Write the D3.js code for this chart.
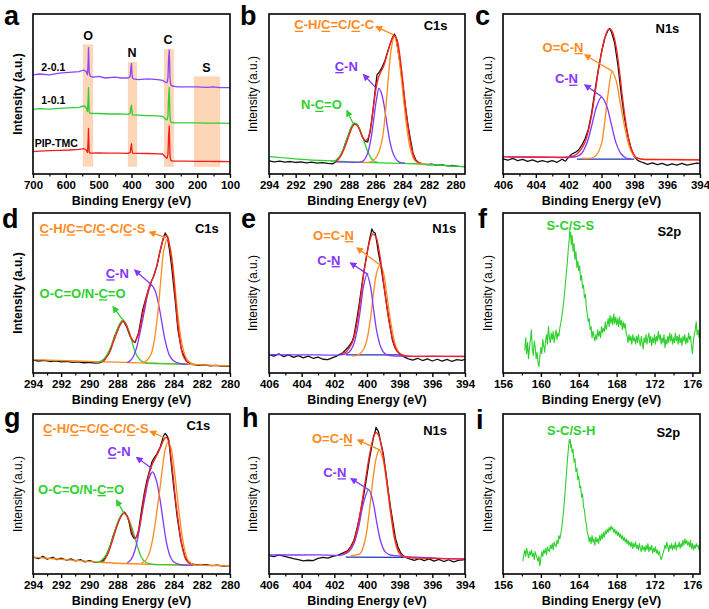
<!DOCTYPE html>
<html><head><meta charset="utf-8">
<script src="https://cdn.jsdelivr.net/npm/d3@7"></script>
<style>body{margin:0;background:#fff} text{font-family:"Liberation Sans",Arial,sans-serif}</style>
</head><body><svg id="c" width="709" height="609"></svg>
<script>
// ---------------- DATA ----------------
// Panel a: survey spectra [binding energy, intensity]
const survey21 = [[700,62],[680,62.5],[650,62],[620,63],[590,63.5],[560,64],[545,65],[538,64],[534,62],[532,70],[531,79],[530,72],[529,64],[527,62],[525,61],[515,60.5],[500,61],[480,60],[450,60.5],[430,60],[410,60],[404,61],[402,66],[400,69],[399,64],[397,60],[394,59.5],[380,59],[350,59.5],[320,59],[305,58.5],[298,57.5],[292,57],[289,60],[287,72],[285,77.5],[284,70],[283,62],[282,58],[280,55.5],[276,55],[260,54.5],[230,54.5],[200,54.5],[170,54.2],[150,54.4],[130,54],[100,54]];
const survey11 = [[700,40.4],[680,40.8],[650,40.6],[620,41],[590,41.3],[560,41.7],[545,42.5],[538,41.5],[534,39],[532,47],[531,54],[530,46],[529,39],[527,38],[525,37.9],[500,37.8],[470,37.5],[440,37.6],[410,37.3],[404,38],[402,41],[400,43],[399,40],[397,37],[380,36.8],[350,36.5],[320,36.3],[305,36],[298,34.5],[292,33.8],[289,36],[287,48],[285,54],[284,46],[283,38],[282,34],[280,32.3],[270,32],[230,32],[200,31.9],[170,31.8],[130,31.8],[100,31.7]];
const surveyPIP = [[700,14],[680,14.3],[650,14.6],[620,14.8],[590,15],[560,15.4],[545,15.8],[538,15],[534,13.5],[532,21],[531,28.5],[530,21],[529,14],[527,13.2],[525,13],[500,13.2],[470,13],[440,13.1],[410,12.9],[404,13.5],[402,16.5],[400,18.8],[399,16],[397,13],[380,12.9],[350,12.8],[320,12.6],[305,12.5],[298,10.8],[292,9.8],[289,12],[287,24],[285,30],[284,22],[283,14],[282,10],[280,8.3],[270,8.1],[230,8],[200,7.9],[170,7.9],[130,7.8],[100,7.7]];
const surveyBands = [[548,517,81],[411,383,70],[301,271,78],[210,130,61]];

// Panel b: C1s (sample PIP-TMC)
const bRaw = [[294,8.2],[293.6,7.6],[293.2,8.1],[292.8,7.4],[292.4,7.8],[292,7.2],[291.6,7.6],[291.2,7.0],[290.8,7.4],[290.4,6.8],[290,7.1],[289.6,6.6],[289.2,6.4],[289,7.5],[288.8,9.5],[288.6,12],[288.4,16],[288.2,21],[288,25],[287.8,29.5],[287.6,31.5],[287.4,31],[287.2,28],[287,23],[286.8,20.5],[286.6,20],[286.4,27],[286.2,40],[286.0,55],[285.9,62],[285.7,64],[285.5,67],[285.3,71],[285.1,76.5],[284.9,81.5],[284.75,85],[284.6,87.5],[284.45,85],[284.3,76],[284.15,68],[284.0,58],[283.8,44],[283.6,32],[283.4,22],[283.2,13],[283.0,9],[282.8,7.2],[282.5,6.3],[282.2,5.8],[281.8,6.1],[281.4,5.5],[281,5.7],[280.6,5.1],[280.2,5.3],[279.8,4.8],[279.3,4.6]];
const bEnv = [[289,7.5],[288.6,11.5],[288.3,17],[288,24],[287.8,28.5],[287.6,31],[287.4,30.5],[287.2,27.5],[287,23.5],[286.8,21],[286.6,22],[286.4,28],[286.2,40],[286,52],[285.8,60],[285.6,64],[285.4,67.5],[285.2,73],[285,79],[284.8,84],[284.6,86.5],[284.4,84],[284.2,75],[284,61],[283.8,45],[283.6,31],[283.4,20],[283.2,12.5],[283,8.5],[282.7,6.8]];
const bBg = [[294,10.8],[291,8.8],[289,8.1],[287,7.3],[285,6.8],[283,6.4],[281,5.4],[279.3,4.6]];
const bNCO = [[289.4,7.9],[289,8.6],[288.7,11],[288.4,16],[288.1,23],[287.85,29],[287.6,32],[287.35,30.5],[287.1,26],[286.85,20],[286.6,14],[286.35,10],[286.1,8],[285.8,7.2]];
const bCN = [[289,7.6],[288,7.4],[287.2,7.4],[286.9,8.5],[286.6,13],[286.35,22],[286.15,34],[285.95,46],[285.75,53.5],[285.55,50],[285.35,42],[285.15,31],[284.95,21],[284.7,13],[284.45,9],[284.2,7.3],[283.8,6.9]];
const bCC = [[287,7.1],[286.4,7.5],[286.1,9],[285.8,13],[285.5,22],[285.25,40],[285.05,60],[284.85,77],[284.6,86],[284.35,78],[284.1,62],[283.85,42],[283.6,25],[283.35,14],[283.1,9],[282.8,7],[282.3,6.2]];

// Panel c: N1s (PIP-TMC)
const cRaw = [[406,9.5],[405.7,8.6],[405.4,9.8],[405.1,8.3],[404.8,9.1],[404.5,7.9],[404.2,8.8],[403.9,7.6],[403.6,8.4],[403.3,7.5],[403,8.3],[402.7,7.3],[402.4,9.2],[402.2,8.0],[402.0,10.5],[401.8,12.5],[401.6,13.5],[401.4,15],[401.2,18],[401,22],[400.8,28],[400.6,38],[400.4,52],[400.2,65],[400.0,76],[399.8,85],[399.6,90],[399.5,91],[399.4,89],[399.2,82],[399,68],[398.8,50],[398.6,35],[398.4,24],[398.2,16],[398,11],[397.8,8.5],[397.5,7.2],[397.2,6.0],[396.9,7.0],[396.6,5.8],[396.3,6.6],[396,5.4],[395.7,6.3],[395.4,5.6],[395.1,6.6],[394.8,5.5],[394.5,6.2],[394.2,6.8],[394,6.5]];
const cEnv = [[406,10.8],[403,10.5],[401.8,11],[401.5,12.5],[401.2,16],[401,20],[400.8,27],[400.6,37],[400.4,50],[400.2,64],[400,76],[399.8,85],[399.6,90],[399.45,90.5],[399.3,88],[399.1,79],[398.9,64],[398.7,46],[398.5,31],[398.3,20],[398.1,13.5],[397.9,10.5],[397.6,9.3],[396,9],[394,8.8]];
const cCN = [[406,10.8],[403.5,10.5],[402,10.3],[401.5,11],[401.2,13],[400.9,19],[400.6,30],[400.3,42],[400.0,48],[399.7,43],[399.4,31],[399.1,19],[398.8,12.5],[398.5,10],[398.2,9.5]];
const cOCN = [[401.2,9.8],[400.6,10],[400.3,12],[400.0,19],[399.8,33],[399.6,50],[399.35,64],[399.1,58],[398.9,47],[398.6,30],[398.3,17],[398.0,11],[397.7,9.6],[397.0,9.3],[395.5,9.1],[394,8.9]];
const cBase = [[401.5,9.3],[398,9.3]];

// Panel d: C1s (1-0.1)
const dRaw = [[294,8.0],[293.6,7.5],[293.2,7.9],[292.8,7.2],[292.4,7.6],[292,7.0],[291.6,7.3],[291.2,6.7],[290.8,7.0],[290.4,6.4],[290,6.7],[289.6,6.2],[289.3,6.3],[289.0,7.3],[288.75,10.5],[288.5,14.6],[288.2,23],[288,27],[287.8,31],[287.6,33],[287.35,29],[287.1,23],[286.9,20],[286.75,19],[286.5,25],[286.2,39.6],[286.0,46],[285.8,52],[285.6,57],[285.45,60],[285.2,66.7],[285.0,75],[284.75,84],[284.6,87.5],[284.45,85],[284.3,77],[284.15,66.7],[283.9,45.8],[283.7,27],[283.45,14.6],[283.1,7.3],[282.8,5.6],[282.6,5.2],[282.2,4.8],[281.8,5.1],[281.4,4.5],[281,4.8],[280.6,4.3],[280.3,4.5],[280,4.2]];
const dEnv = [[289,7.2],[288.6,12],[288.3,19],[288,26],[287.8,30],[287.6,32.5],[287.4,30.5],[287.2,26],[287,21.5],[286.8,19.5],[286.6,22],[286.4,28],[286.2,37],[286,45],[285.8,52],[285.6,57],[285.4,61],[285.2,67],[285,75],[284.8,82],[284.6,86],[284.45,85.5],[284.3,80],[284.1,68],[283.9,49],[283.7,30],[283.5,17],[283.3,10],[283.0,6.5]];
const dBg = [[294,8.3],[291,7.5],[289,7.0],[287,6.5],[285,6.0],[283,5.4],[282,5.1],[281,4.7],[280,4.4]];
const dOCO = [[289.3,7],[289,8.5],[288.7,12],[288.4,18],[288.1,25],[287.85,30.5],[287.6,33],[287.35,30],[287.1,24],[286.85,16],[286.6,10.5],[286.3,7.5],[286,6.3],[285,5.9],[284,5.7],[283,5.5]];
const dCN = [[287.3,6.5],[287.0,8.5],[286.7,14],[286.4,25],[286.1,38],[285.85,49],[285.6,55],[285.35,52],[285.1,44],[284.85,32],[284.6,20],[284.3,11],[284.0,7.5],[283.6,6],[283.0,5.4]];
const dCC = [[286.2,6.3],[285.9,8],[285.6,12],[285.35,22],[285.1,40],[284.9,60],[284.7,77],[284.45,84],[284.2,76],[284.0,62],[283.75,40],[283.45,20],[283.15,10],[282.85,6.5],[282.4,5.2]];

// Panel e: N1s (1-0.1)
const eRaw = [[406,11.5],[405.7,10.6],[405.4,12.0],[405.1,10.2],[404.8,11.3],[404.5,9.8],[404.2,10.9],[403.9,9.5],[403.6,10.6],[403.3,9.2],[403.0,9.9],[402.7,8.6],[402.4,8.3],[402.1,9.6],[401.9,10.4],[401.7,11.5],[401.5,12.5],[401.3,14.5],[401.1,16.7],[400.9,20],[400.8,23],[400.6,35],[400.45,45],[400.3,56],[400.15,66],[400.0,75],[399.85,83],[399.7,90],[399.6,88],[399.5,87.5],[399.4,82],[399.3,75],[399.15,67],[399.05,60],[398.9,50],[398.75,39.6],[398.6,30],[398.45,20.8],[398.3,16],[398.15,13.5],[397.95,11.5],[397.8,10.4],[397.5,9.0],[397.2,8.0],[396.9,9.2],[396.6,7.8],[396.3,8.8],[396.0,7.5],[395.7,8.6],[395.4,7.4],[395.1,8.5],[394.8,7.2],[394.5,8.3],[394.2,7.9],[394,8.5]];
const eEnv = [[401.5,12.5],[401.3,13],[401.0,17],[400.8,22],[400.6,32],[400.4,46],[400.2,62],[400.0,74],[399.85,82],[399.65,87],[399.45,85],[399.25,76],[399.05,62],[398.85,46],[398.65,32],[398.45,22],[398.25,15.5],[398,12],[397.6,10.7],[396,10.5],[394,10.4]];
const eCN = [[406,11.5],[403,11.3],[401.5,11.5],[401.1,13],[400.85,17],[400.6,27],[400.4,40],[400.2,55],[400.0,61.5],[399.8,55],[399.6,40],[399.4,26],[399.15,16],[398.9,12],[398.6,10.8],[398,10.5],[396,10.4],[394,10.3]];
const eOCN = [[400.9,10.5],[400.5,11.5],[400.2,15],[400.0,21],[399.8,33],[399.6,50],[399.4,63],[399.2,67.7],[399.0,63],[398.8,50],[398.55,32],[398.3,19],[398.05,13],[397.8,11],[397.4,10.5]];
const eBase = [[401.3,11.3],[397.8,11.3]];

// Panel f: S2p (1-0.1)
const fRaw = [[158.3,14],[158.4,22],[158.5,12],[158.6,19],[158.7,9],[158.8,16],[158.9,21],[159.0,27],[159.1,15],[159.2,11],[159.3,20],[159.4,16],[159.5,9],[159.6,13],[159.7,6],[159.8,4],[159.9,11],[160.0,16],[160.1,12],[160.2,21],[160.3,17],[160.4,13],[160.5,20],[160.6,24],[160.7,18],[160.8,29],[160.9,22],[161.0,19],[161.1,25],[161.2,21],[161.3,26],[161.4,19],[161.5,23],[161.6,27],[161.7,21],[161.8,25],[161.9,23],[162.0,28],[162.1,31],[162.2,35],[162.3,39],[162.4,44],[162.5,50],[162.6,57],[162.7,63],[162.8,70],[162.9,78],[163.0,84],[163.05,89],[163.1,85],[163.15,88],[163.2,80],[163.3,86],[163.4,76],[163.5,81],[163.6,71],[163.7,76],[163.8,66],[163.9,70],[164.0,64],[164.1,67],[164.2,58],[164.3,61],[164.4,53],[164.5,55],[164.6,47],[164.7,49],[164.8,41],[164.9,37],[165.0,32],[165.1,34],[165.2,27],[165.3,29],[165.4,22],[165.5,26],[165.6,23],[165.7,20],[165.8,24],[165.9,21],[166.0,27],[166.1,23],[166.2,26],[166.3,22],[166.4,29],[166.5,25],[166.6,28],[166.7,26],[166.8,32],[166.9,27],[167.0,30],[167.1,34],[167.2,29],[167.3,36],[167.4,31],[167.5,35],[167.6,30],[167.7,37],[167.8,31],[167.9,35],[168.0,30],[168.1,34],[168.2,29],[168.3,35],[168.4,30],[168.5,33],[168.6,27],[168.7,32],[168.8,28],[168.9,31],[169.0,25],[169.1,23],[169.2,19],[169.3,24],[169.4,20],[169.5,23],[169.6,18],[169.7,24],[169.8,20],[169.9,22],[170.0,18],[170.1,23],[170.2,19],[170.3,24],[170.4,20],[170.5,17],[170.6,23],[170.7,19],[170.8,15],[170.9,22],[171.0,19],[171.1,24],[171.2,18],[171.3,22],[171.4,25],[171.5,19],[171.6,23],[171.7,17],[171.8,22],[171.9,19],[172.0,24],[172.1,18],[172.2,23],[172.3,20],[172.4,26],[172.5,21],[172.6,24],[172.7,18],[172.8,22],[172.9,19],[173.0,24],[173.1,16],[173.2,21],[173.3,18],[173.4,23],[173.5,19],[173.6,25],[173.7,20],[173.8,24],[173.9,18],[174.0,22],[174.1,19],[174.2,25],[174.3,20],[174.4,23],[174.5,18],[174.6,24],[174.7,19],[174.8,22],[174.9,17],[175.0,23],[175.1,20],[175.2,24],[175.3,18],[175.4,22],[175.5,19],[175.6,25],[175.7,21],[175.8,23],[175.9,17],[176.0,12],[176.1,20],[176.2,24],[176.3,27],[176.4,32],[176.5,24],[176.6,27],[176.7,22],[176.8,26]];

// Panel g: C1s (2-0.1)
const gRaw = [[294,10.5],[293.6,9.6],[293.3,11.0],[293,9.3],[292.6,10.4],[292.3,9.0],[292,9.9],[291.6,8.6],[291.3,9.5],[291,8.2],[290.6,8.9],[290.3,7.6],[290,8.3],[289.6,7.4],[289.2,7.3],[289.0,8.5],[288.75,12.5],[288.5,18],[288.3,24],[288.1,29],[287.9,33.5],[287.7,37],[287.5,38.7],[287.35,37],[287.2,33.5],[287,25],[286.85,22.5],[286.75,22],[286.6,24],[286.5,27],[286.25,42],[286.1,50],[285.9,58.6],[285.7,65],[285.55,70],[285.4,72.5],[285.2,75],[284.95,79.5],[284.8,84],[284.7,86.8],[284.6,87.9],[284.45,86],[284.35,83.7],[284.2,71],[284.0,54.4],[283.75,35.5],[283.5,21],[283.2,10.5],[283.0,7.8],[282.8,6.7],[282.5,5.9],[282.1,5.5],[281.7,5.8],[281.3,5.2],[280.9,5.5],[280.5,5.0],[280,5.2]];
const gEnv = [[289,7.7],[288.7,12],[288.4,19.5],[288.1,28],[287.8,35],[287.55,38],[287.3,36],[287.05,29],[286.85,23.5],[286.7,22.5],[286.5,27],[286.3,36],[286.1,48],[285.9,57],[285.7,64],[285.5,69],[285.3,72.5],[285.1,76],[284.9,80],[284.7,84],[284.55,85.5],[284.4,84],[284.25,77],[284.05,62],[283.85,45],[283.6,28],[283.35,15],[283.1,8.5],[282.8,6]];
const gBg = [[294,10.5],[291,8.5],[289,7.2],[287,6.4],[285,5.9],[283,5.5],[281,5.3],[280,5.2]];
const gOCO = [[289.4,7.3],[289.1,8.8],[288.8,12],[288.5,18],[288.2,26],[287.95,33],[287.7,37],[287.5,37.7],[287.3,36],[287.05,31],[286.8,24],[286.55,16.5],[286.3,10.5],[286.0,7.3],[285.6,6.2],[284.5,5.8],[283,5.6]];
const gCN = [[287.3,6.8],[287.0,9.5],[286.75,15],[286.5,25],[286.25,38],[286.0,50],[285.75,60],[285.5,63.8],[285.25,59],[285.0,48],[284.75,33],[284.5,19],[284.25,11],[284.0,7.5],[283.6,6],[283.0,5.5],[282.6,5.4]];
const gCC = [[286.3,6.8],[286.0,8.5],[285.7,14],[285.45,24],[285.2,39],[285.0,52],[284.8,66],[284.6,78],[284.4,82.6],[284.2,79],[284.0,68],[283.8,53],[283.6,37],[283.35,21],[283.1,11],[282.85,7],[282.5,5.7]];

// Panel h: N1s (2-0.1)
const hRaw = [[406,11.5],[405.7,10.8],[405.4,12.0],[405.1,11.2],[404.8,10.4],[404.5,9.6],[404.2,9.0],[403.9,8.2],[403.6,8.6],[403.3,8.4],[403.0,9.8],[402.7,10.4],[402.4,9.9],[402.1,11.0],[401.8,11.6],[401.5,13.0],[401.2,14.5],[401.0,17],[400.8,21],[400.6,29],[400.45,36],[400.3,44],[400.15,52.3],[400.0,62],[399.85,72],[399.7,80],[399.6,85.8],[399.5,89],[399.45,91.6],[399.3,89],[399.15,82],[399.0,75],[398.85,64],[398.7,52.3],[398.55,41],[398.4,31.4],[398.25,22],[398.1,16.7],[397.95,13.5],[397.8,11.5],[397.6,10.2],[397.4,9.4],[397.1,8.5],[396.8,9.6],[396.5,8.3],[396.2,9.4],[395.9,8.0],[395.6,9.1],[395.3,7.8],[395,8.9],[394.7,7.6],[394.4,8.5],[394,9]];
const hEnv = [[401.5,12.5],[401.2,14],[401,16.5],[400.8,20.5],[400.6,28],[400.4,39],[400.2,52],[400.0,65],[399.8,77],[399.6,85.5],[399.45,88.3],[399.3,87],[399.1,79],[398.9,66],[398.7,50],[398.5,35],[398.3,22.5],[398.1,15],[397.9,12],[397.6,10.5],[396,9.8],[394,9.4]];
const hCN = [[406,11.9],[403,11.9],[401.5,12],[401.1,14],[400.8,19],[400.5,30],[400.2,45],[399.9,52.7],[399.65,46],[399.4,32],[399.15,20],[398.9,14],[398.6,12],[398.3,11.5],[397,10.5],[395.5,9.8],[394,9.4]];
const hOCN = [[401.0,11.5],[400.7,11.8],[400.4,13],[400.1,22],[399.85,40],[399.6,62],[399.4,74],[399.25,77.4],[399.05,73],[398.8,58],[398.55,38],[398.3,21],[398.05,13],[397.8,10.8],[397.3,10.2],[396,10.0]];
const hBase = [[401.3,10.5],[397.6,10.4]];

// Panel i: S2p (2-0.1)
const iRaw = [[158.1,8],[158.2,12],[158.3,15],[158.4,11],[158.5,16],[158.6,13],[158.7,10],[158.8,14],[158.9,12],[159.0,15],[159.1,11],[159.2,13],[159.3,9],[159.4,14],[159.5,12],[159.6,10],[159.7,8],[159.8,11],[159.9,5],[160.0,10],[160.1,14],[160.2,11],[160.3,15],[160.4,13],[160.5,16],[160.6,12],[160.7,17],[160.8,15],[160.9,14],[161.0,18],[161.1,16],[161.2,19],[161.3,15],[161.4,20],[161.5,18],[161.6,17],[161.7,21],[161.8,19],[161.9,24],[162.0,22],[162.1,25],[162.2,29],[162.3,34],[162.4,40],[162.5,47],[162.6,55],[162.7,63],[162.8,71],[162.9,78],[163.0,84],[163.05,82],[163.1,84],[163.15,79],[163.2,81],[163.3,76],[163.4,78],[163.5,70],[163.6,72],[163.7,64],[163.8,66],[163.9,59],[164.0,61],[164.1,54],[164.2,55],[164.3,48],[164.4,50],[164.5,42],[164.6,40],[164.7,34],[164.8,31],[164.9,26],[165.0,24],[165.1,20],[165.2,23],[165.3,19],[165.4,24],[165.5,20],[165.6,22],[165.7,18],[165.8,23],[165.9,20],[166.0,22],[166.1,19],[166.2,24],[166.3,21],[166.4,25],[166.5,22],[166.6,26],[166.7,23],[166.8,27],[166.9,25],[167.0,28],[167.1,26],[167.2,29],[167.3,27],[167.4,30],[167.5,28],[167.6,29],[167.7,26],[167.8,28],[167.9,25],[168.0,27],[168.1,24],[168.2,26],[168.3,23],[168.4,25],[168.5,22],[168.6,24],[168.7,21],[168.8,23],[168.9,20],[169.0,22],[169.1,19],[169.2,21],[169.3,18],[169.4,20],[169.5,17],[169.6,20],[169.7,16],[169.8,19],[169.9,17],[170.0,20],[170.1,16],[170.2,18],[170.3,15],[170.4,19],[170.5,16],[170.6,14],[170.7,18],[170.8,15],[170.9,17],[171.0,14],[171.1,18],[171.2,15],[171.3,19],[171.4,14],[171.5,17],[171.6,15],[171.7,18],[171.8,13],[171.9,16],[172.0,14],[172.1,17],[172.2,13],[172.3,15],[172.4,12],[172.5,14],[172.6,11],[172.7,9],[172.8,11],[172.9,13],[173.0,15],[173.1,18],[173.2,16],[173.3,20],[173.4,17],[173.5,14],[173.6,18],[173.7,16],[173.8,19],[173.9,15],[174.0,18],[174.1,16],[174.2,20],[174.3,15],[174.4,18],[174.5,17],[174.6,20],[174.7,16],[174.8,19],[174.9,17],[175.0,21],[175.1,18],[175.2,22],[175.3,19],[175.4,21],[175.5,18],[175.6,20],[175.7,17],[175.8,21],[175.9,16],[176.0,19],[176.1,15],[176.2,18],[176.3,16],[176.4,19],[176.5,17],[176.6,18],[176.7,15],[176.8,17]];

// Tick labels
const ticksSurvey = [700,600,500,400,300,200,100];
const minorSurvey = [650,550,450,350,250,150];
const ticksC1s = [294,292,290,288,286,284,282,280];
const minorC1s = [293,291,289,287,285,283,281];
const ticksN1s = [406,404,402,400,398,396,394];
const minorN1s = [405,403,401,399,397,395];
const ticksS2p = [156,160,164,168,172,176];
const minorS2p = [158,162,166,170,174];

// ---------------- DRAWING ----------------
const C = {black:"#111111", red:"#ff1f1f", orange:"#ff8a1c", purple:"#8236ff", green:"#2ed02e", blue:"#1c36b8",
  sPurple:"#8a44ff", sGreen:"#33cc33", sRed:"#f01e1e", band:"#fbcfa9"};
const svg = d3.select("#c");
const H = 160;
const colX = [33, 269, 503], colW = [197, 196, 197], rowY = [14, 213, 414], colO = [0,235,470], rowO = [0,200,400];

const defs = svg.append("defs");
[["orange",C.orange],["purple",C.purple],["green",C.green]].forEach(([k,col])=>{
  defs.append("marker").attr("id","ah-"+k).attr("viewBox","0 0 10 10").attr("refX",8).attr("refY",5)
    .attr("markerWidth",7).attr("markerHeight",7).attr("markerUnits","userSpaceOnUse").attr("orient","auto")
    .append("path").attr("d","M0,0L10,5L0,10z").attr("fill",col);
});

function drawPanel(p){
  const ci = p.col, ri = p.row;
  const g = svg.append("g").attr("transform",`translate(${colX[ci]},${rowY[ri]})`);
  const W = colW[ci];
  const x = d3.scaleLinear().domain(p.domain).range([0,W]);
  const y = d3.scaleLinear().domain([0,100]).range([H,0]);
  const cid = "clip-"+p.letter;
  defs.append("clipPath").attr("id",cid).append("rect").attr("width",W).attr("height",H);
  const pl = g.append("g").attr("clip-path",`url(#${cid})`);
  if(p.bands){
    p.bands.forEach(b=>{
      pl.append("rect").attr("x",x(b[0])).attr("width",x(b[1])-x(b[0]))
        .attr("y",y(b[2])).attr("height",y(4.5)-y(b[2])).attr("fill",C.band).attr("opacity",0.85);
    });
  }
  p.series.forEach(s=>{
    const line = d3.line().x(d=>x(d[0])).y(d=>y(d[1])).curve(s.smooth?d3.curveCatmullRom.alpha(0.5):d3.curveLinear);
    pl.append("path").datum(s.data).attr("d",line).attr("fill","none")
      .attr("stroke",s.color).attr("stroke-width",s.w||1.3).attr("stroke-linejoin","round");
  });
  (p.arrows||[]).forEach(a=>{
    g.append("line").attr("x1",x(a.from[0])).attr("y1",y(a.from[1])).attr("x2",x(a.to[0])).attr("y2",y(a.to[1]))
      .attr("stroke",C[a.color]).attr("stroke-width",1.3).attr("marker-end",`url(#ah-${a.color})`);
  });
  (p.labels||[]).forEach(l=>{
    const t = g.append("text").attr("x",x(l.at[0])).attr("y",y(l.at[1])).text(l.text)
      .attr("fill",C[l.color]||l.color).attr("font-size",l.size||13).attr("font-weight","bold")
      .attr("text-anchor",l.anchor||"start");
    if(l.under){
      const node = t.node();
      l.under.forEach(i=>{
        const e = node.getExtentOfChar(i);
        g.append("line").attr("x1",e.x+0.5).attr("x2",e.x+e.width-0.5)
          .attr("y1",y(l.at[1])+2).attr("y2",y(l.at[1])+2)
          .attr("stroke",C[l.color]||l.color).attr("stroke-width",1.3);
      });
    }
  });
  g.append("rect").attr("width",W).attr("height",H).attr("fill","none").attr("stroke","#000").attr("stroke-width",1.6);
  const ax = g.append("g").attr("transform",`translate(0,${H})`)
    .call(d3.axisBottom(x).tickValues(p.ticks).tickSize(4).tickPadding(3).tickFormat(d3.format("d")));
  ax.select(".domain").remove();
  ax.selectAll(".tick line").attr("stroke","#000").attr("stroke-width",1.4);
  ax.selectAll("text").attr("font-size",11.5).attr("font-weight","bold").attr("fill","#000")
    .attr("font-family","'Liberation Sans',Arial,sans-serif");
  const mx = g.append("g").attr("transform",`translate(0,${H})`)
    .call(d3.axisBottom(x).tickValues(p.minor).tickSize(2.5).tickFormat(""));
  mx.select(".domain").remove();
  mx.selectAll(".tick line").attr("stroke","#000").attr("stroke-width",1.2);
  g.append("text").attr("x",W/2).attr("y",H+31).attr("text-anchor","middle").attr("font-size",12.5)
    .attr("font-weight","bold").attr("fill","#000").text("Binding Energy (eV)");
  const ox = colO[ci] + 22 - colX[ci];
  g.append("text").attr("transform",`translate(${ox},${H/2}) rotate(-90)`).attr("text-anchor","middle")
    .attr("font-size",12).attr("font-weight",p.boldY?"bold":"normal").attr("fill","#000").text("Intensity (a.u.)");
  svg.append("text").attr("x",colO[ci]+p.lx).attr("y",rowO[ri]+p.ly).attr("font-size",27).attr("font-weight","bold")
    .attr("fill","#000").text(p.letter);
}

const panels = [
 {letter:"a",col:0,row:0,lx:4,ly:25,domain:[700,100],ticks:ticksSurvey,minor:minorSurvey,boldY:true,bands:surveyBands,
  series:[{data:survey21,color:C.sPurple},{data:survey11,color:C.sGreen},{data:surveyPIP,color:C.sRed}],
  labels:[{text:"O",at:[532.5,84],color:"#000",anchor:"middle",size:12.5},{text:"N",at:[398.5,72.9],color:"#000",anchor:"middle",size:12.5},
   {text:"C",at:[288.8,81.2],color:"#000",anchor:"middle",size:12.5},{text:"S",at:[172,64],color:"#000",anchor:"middle",size:12.5},
   {text:"2-0.1",at:[674.6,64.6],color:"#000",size:10.5},{text:"1-0.1",at:[674.6,43.5],color:"#000",size:10.5},
   {text:"PIP-TMC",at:[694.9,17.1],color:"#000",size:10.5}]},
 {letter:"b",col:1,row:0,lx:5,ly:25,domain:[294,279.3],ticks:ticksC1s,minor:minorC1s,
  series:[{data:bRaw,color:C.black},{data:bBg,color:C.green,smooth:true},{data:bNCO,color:C.green,smooth:true},
   {data:bCN,color:C.purple,smooth:true},{data:bCC,color:C.orange,smooth:true},{data:bEnv,color:C.red,smooth:true}],
  arrows:[{from:[284.65,87],to:[285.95,92],color:"orange"},{from:[286.0,54],to:[286.9,62],color:"purple"},{from:[287.7,31.7],to:[288.15,39.5],color:"green"}],
  labels:[{text:"C-H/C=C/C-C",at:[292.1,90.4],color:"orange",under:[0,4,8]},{text:"C1s",at:[282.4,90],color:"#000"},
   {text:"C-N",at:[289.07,64.6],color:"purple",under:[0]},{text:"N-C=O",at:[291.6,40.4],color:"green",under:[2]}]},
 {letter:"c",col:2,row:0,lx:5,ly:25,domain:[406,394],ticks:ticksN1s,minor:minorN1s,
  series:[{data:cRaw,color:C.black},{data:cBase,color:C.blue},{data:cOCN,color:C.orange,smooth:true},
   {data:cCN,color:C.purple,smooth:true},{data:cEnv,color:C.red,smooth:true}],
  arrows:[{from:[399.3,64],to:[401.0,74.4],color:"orange"},{from:[399.98,48.3],to:[401.0,55.6],color:"purple"}],
  labels:[{text:"N1s",at:[396.71,87.9],color:"#000"},{text:"O=C-N",at:[403.59,76.5],color:"orange",under:[4]},
   {text:"C-N",at:[402.84,56.7],color:"purple",under:[2]}]},
 {letter:"d",col:0,row:1,lx:2,ly:28,domain:[294,280],ticks:ticksC1s,minor:minorC1s,boldY:true,
  series:[{data:dRaw,color:C.black},{data:dBg,color:C.orange,smooth:true},{data:dOCO,color:C.green,smooth:true},
   {data:dCN,color:C.purple,smooth:true},{data:dCC,color:C.orange,smooth:true},{data:dEnv,color:C.red,smooth:true}],
  arrows:[{from:[284.5,84.4],to:[285.7,88],color:"orange"},{from:[285.58,55.2],to:[286.76,64.2],color:"purple"},{from:[287.6,32.9],to:[288.3,41.3],color:"green"}],
  labels:[{text:"C-H/C=C/C-C/C-S",at:[293.53,87.5],color:"orange",under:[0,4,8,12]},{text:"C1s",at:[282.49,87.5],color:"#000"},
   {text:"C-N",at:[288.83,59.4],color:"purple",under:[0]},{text:"O-C=O/N-C=O",at:[293.53,46.9],color:"green",under:[8]}]},
 {letter:"e",col:1,row:1,lx:6,ly:28,domain:[406,394],ticks:ticksN1s,minor:minorN1s,
  series:[{data:eRaw,color:C.black},{data:eBase,color:C.blue},{data:eOCN,color:C.orange,smooth:true},
   {data:eCN,color:C.purple,smooth:true},{data:eEnv,color:C.red,smooth:true}],
  arrows:[{from:[399.22,67.7],to:[400.6,78.1],color:"orange"},{from:[399.92,61.5],to:[401.0,68.75],color:"purple"}],
  labels:[{text:"N1s",at:[396,87.5],color:"#000"},{text:"O=C-N",at:[403.3,83.3],color:"orange",under:[4]},
   {text:"C-N",at:[403.04,67.7],color:"purple",under:[2]}]},
 {letter:"f",col:2,row:1,lx:8,ly:28,domain:[156,176.8],ticks:ticksS2p,minor:minorS2p,
  series:[{data:fRaw,color:C.green,w:1.1}],
  labels:[{text:"S-C/S-S",at:[160.58,89.6],color:"green"},{text:"S2p",at:[172.3,85.4],color:"#000"}]},
 {letter:"g",col:0,row:2,lx:4,ly:27,domain:[294,280],ticks:ticksC1s,minor:minorC1s,
  series:[{data:gRaw,color:C.black},{data:gBg,color:C.orange,smooth:true},{data:gOCO,color:C.green,smooth:true},
   {data:gCN,color:C.purple,smooth:true},{data:gCC,color:C.orange,smooth:true},{data:gEnv,color:C.red,smooth:true}],
  arrows:[{from:[284.52,84.7],to:[285.65,89],color:"orange"},{from:[285.55,65.9],to:[286.62,72.8],color:"purple"},{from:[287.52,37.7],to:[288.05,46],color:"green"}],
  labels:[{text:"C-H/C=C/C-C/C-S",at:[293.29,87.9],color:"orange",under:[0,4,8,12]},{text:"C1s",at:[283.1,90],color:"#000"},
   {text:"C-N",at:[288.71,73.6],color:"purple",under:[0]},{text:"O-C=O/N-C=O",at:[293.64,50.2],color:"green",under:[8]}]},
 {letter:"h",col:1,row:2,lx:7,ly:27,domain:[406,394],ticks:ticksN1s,minor:minorN1s,
  series:[{data:hRaw,color:C.black},{data:hBase,color:C.blue},{data:hOCN,color:C.orange,smooth:true},
   {data:hCN,color:C.purple,smooth:true},{data:hEnv,color:C.red,smooth:true}],
  arrows:[{from:[399.19,77.4],to:[400.56,83.7],color:"orange"},{from:[399.89,52.7],to:[400.97,59.6],color:"purple"}],
  labels:[{text:"N1s",at:[396.56,86.8],color:"#000"},{text:"O=C-N",at:[403.37,81.6],color:"orange",under:[4]},
   {text:"C-N",at:[402.68,60.7],color:"purple",under:[2]}]},
 {letter:"i",col:2,row:2,lx:6,ly:29,domain:[156,176.8],ticks:ticksS2p,minor:minorS2p,
  series:[{data:iRaw,color:C.green,w:1.1}],
  labels:[{text:"S-C/S-H",at:[160.65,86.8],color:"green"},{text:"S2p",at:[172.2,85.8],color:"#000"}]}
];
panels.forEach(drawPanel);
</script></body></html>
